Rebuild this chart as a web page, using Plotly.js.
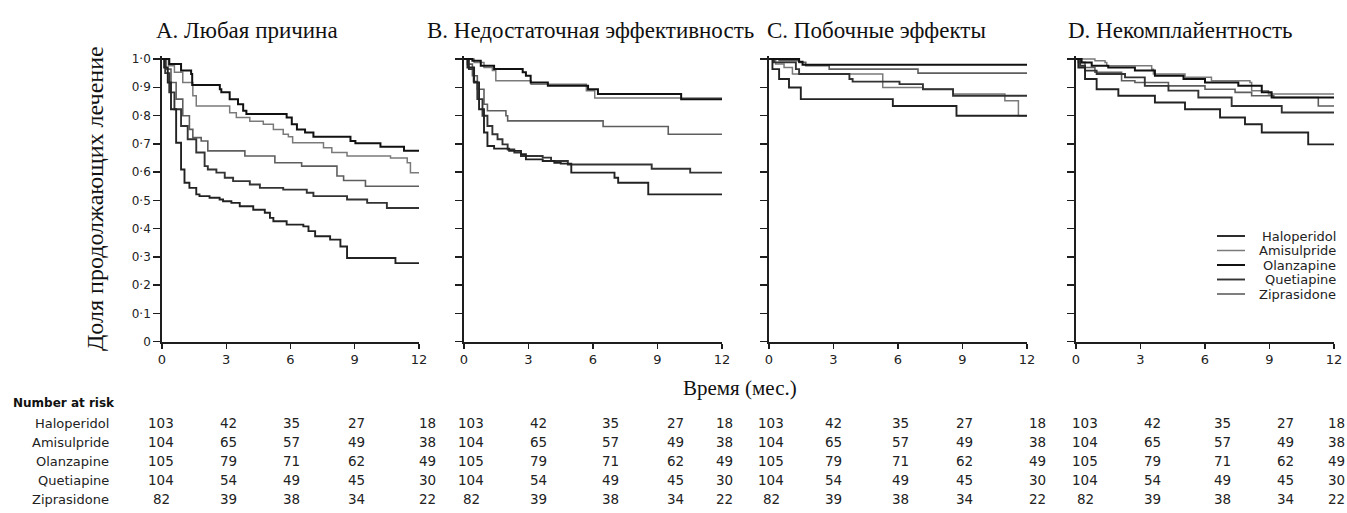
<!DOCTYPE html>
<html>
<head>
<meta charset="utf-8">
<script src="https://cdn.plot.ly/plotly-3.0.1.min.js"></script>
<style>
html,body{margin:0;padding:0;background:#fff;}
#chart{width:1347px;height:513px;}
</style>
</head>
<body>
<div id="chart"></div>
<script>
// ---------------- DATA ----------------
const drugs = ["Haloperidol", "Amisulpride", "Olanzapine", "Quetiapine", "Ziprasidone"];
const panelTitles = ["A. Любая причина", "B. Недостаточная эффективность", "C. Побочные эффекты", "D. Некомплайентность"];
const xTickVals = [0, 3, 6, 9, 12];
const xTickText = ["0", "3", "6", "9", "12"];
const yTickVals = [0, 0.1, 0.2, 0.3, 0.4, 0.5, 0.6, 0.7, 0.8, 0.9, 1.0];
const yTickText = ["0", "0·1", "0·2", "0·3", "0·4", "0·5", "0·6", "0·7", "0·8", "0·9", "1·0"];
const yTitle = "Доля продолжающих лечение";
const xTitle = "Время (мес.)";
const riskTitle = "Number at risk";

// Number at risk (months 0, 3, 6, 9, 12)
const riskHaloperidol = [103, 42, 35, 27, 18];
const riskAmisulpride = [104, 65, 57, 49, 38];
const riskOlanzapine = [105, 79, 71, 62, 49];
const riskQuetiapine = [104, 54, 49, 45, 30];
const riskZiprasidone = [82, 39, 38, 34, 22];

// Kaplan-Meier steps: [month, proportion]
// Panel A: any cause
const A_Haloperidol = [[0,1],[0.1,0.97],[0.27,0.917],[0.42,0.822],[0.66,0.704],[0.89,0.609],[1.05,0.562],[1.28,0.544],[1.6,0.521],[1.75,0.515],[2.22,0.509],[2.69,0.503],[2.85,0.497],[3.24,0.491],[3.63,0.479],[4.26,0.467],[4.8,0.456],[5.04,0.438],[5.2,0.426],[5.82,0.414],[6.6,0.408],[6.84,0.391],[7.15,0.373],[7.85,0.361],[8.33,0.337],[8.64,0.296],[10.9,0.278],[12,0.278]];
const A_Amisulpride = [[0,1],[0.3,0.976],[0.58,0.953],[0.97,0.917],[1.44,0.87],[1.6,0.834],[3.16,0.81],[3.47,0.793],[4.1,0.78],[4.73,0.769],[5.2,0.751],[5.66,0.734],[5.9,0.725],[6.1,0.704],[7.54,0.686],[7.93,0.669],[8.64,0.657],[10.67,0.65],[11.45,0.633],[11.6,0.598],[12,0.598]];
const A_Olanzapine = [[0,1],[0.34,0.982],[0.89,0.959],[1.36,0.947],[1.41,0.908],[2.7,0.893],[2.77,0.882],[3.16,0.858],[3.55,0.84],[3.79,0.817],[3.94,0.805],[5.82,0.793],[6.06,0.769],[6.3,0.751],[6.68,0.74],[7.07,0.725],[8.8,0.71],[9.03,0.702],[10.2,0.69],[11.3,0.675],[12,0.675]];
const A_Quetiapine = [[0,1],[0.15,0.95],[0.34,0.882],[0.58,0.822],[0.89,0.763],[1.2,0.716],[1.6,0.669],[1.99,0.621],[2.14,0.609],[2.54,0.598],[2.93,0.58],[3.32,0.568],[4.1,0.556],[4.57,0.544],[5.66,0.538],[6.76,0.527],[7.07,0.515],[8.64,0.503],[9.58,0.491],[10.5,0.473],[12,0.473]];
const A_Ziprasidone = [[0,1],[0.19,0.964],[0.42,0.917],[0.66,0.858],[0.97,0.799],[1.28,0.751],[1.44,0.722],[1.83,0.71],[2.14,0.675],[3.87,0.657],[5.27,0.633],[6.52,0.621],[8.17,0.586],[8.48,0.57],[9.5,0.55],[12,0.55]];

// Panel B: insufficient efficacy
const B_Haloperidol = [[0,1],[0.16,0.97],[0.47,0.917],[0.7,0.822],[0.93,0.74],[1.09,0.692],[1.4,0.683],[2.1,0.675],[2.65,0.663],[2.88,0.645],[3.66,0.639],[4.2,0.633],[4.5,0.63],[4.99,0.598],[7.0,0.58],[7.17,0.562],[8.57,0.521],[12,0.521]];
const B_Amisulpride = [[0,1],[0.47,0.988],[0.93,0.97],[1.32,0.959],[1.48,0.923],[3.12,0.911],[5.69,0.888],[6.08,0.862],[12,0.858]];
const B_Olanzapine = [[0,1],[0.39,0.994],[0.78,0.976],[1.4,0.965],[2.73,0.953],[2.88,0.941],[3.1,0.917],[3.9,0.905],[5.77,0.893],[6.23,0.876],[10.1,0.858],[12,0.858]];
const B_Quetiapine = [[0,1],[0.23,0.964],[0.45,0.92],[0.62,0.858],[0.86,0.799],[1.09,0.763],[1.32,0.734],[1.56,0.716],[1.79,0.698],[2.03,0.68],[2.34,0.669],[2.65,0.657],[3.66,0.651],[4.05,0.639],[4.83,0.627],[8.73,0.612],[10.52,0.598],[12,0.598]];
const B_Ziprasidone = [[0,1],[0.16,0.982],[0.39,0.941],[0.62,0.893],[0.93,0.84],[1.09,0.817],[1.95,0.799],[2.03,0.781],[6.47,0.761],[9.5,0.734],[12,0.734]];

// Panel C: side effects
const C_Haloperidol = [[0,1],[0.16,0.964],[0.47,0.929],[0.93,0.899],[1.48,0.858],[5.76,0.834],[8.72,0.799],[12,0.799]];
const C_Amisulpride = [[0,1],[0.31,0.982],[0.7,0.97],[1.09,0.947],[5.29,0.899],[7.16,0.893],[8.56,0.876],[10.97,0.852],[11.6,0.799],[12,0.799]];
const C_Olanzapine = [[0,1],[1.4,0.99],[1.56,0.98],[12,0.978]];
const C_Quetiapine = [[0,1],[0.23,0.988],[1.25,0.964],[1.4,0.947],[3.74,0.929],[3.89,0.92],[6.07,0.911],[7.16,0.893],[8.56,0.87],[12,0.87]];
const C_Ziprasidone = [[0,1],[0.47,0.994],[1.4,0.988],[1.71,0.976],[2.8,0.964],[6.93,0.95],[12,0.95]];

// Panel D: non-compliance
const D_Haloperidol = [[0,1],[0.11,0.97],[0.42,0.929],[0.96,0.893],[1.97,0.87],[3.67,0.846],[5.07,0.822],[6.7,0.793],[7.86,0.769],[8.64,0.74],[10.8,0.698],[12,0.698]];
const D_Amisulpride = [[0,1],[0.88,0.994],[1.35,0.988],[1.43,0.976],[3.52,0.964],[3.6,0.947],[5.07,0.935],[6.3,0.923],[8.09,0.917],[8.17,0.888],[8.95,0.876],[12,0.876]];
const D_Olanzapine = [[0,1],[0.26,0.988],[0.73,0.976],[1.5,0.97],[2.74,0.959],[3.67,0.941],[5.0,0.929],[6.0,0.917],[7.55,0.905],[8.64,0.882],[9.1,0.864],[12,0.864]];
const D_Quetiapine = [[0,1],[0.19,0.976],[0.42,0.959],[0.96,0.947],[2.28,0.935],[3.2,0.905],[4.3,0.888],[5.69,0.864],[7.24,0.834],[9.57,0.811],[12,0.811]];
const D_Ziprasidone = [[0,1],[0.11,0.988],[0.42,0.97],[0.88,0.953],[2.12,0.923],[2.74,0.917],[4.3,0.905],[6.0,0.893],[7.4,0.882],[8.17,0.87],[9.2,0.864],[11.27,0.834],[12,0.834]];

// ---------------- STYLE / LAYOUT CONSTANTS ----------------
const W = 1347, H = 513;
const drugColor = {Haloperidol:"#222222", Amisulpride:"#7a7a7a", Olanzapine:"#111111", Quetiapine:"#333333", Ziprasidone:"#5e5e5e"};
const drugWidth = {Haloperidol:1.9, Amisulpride:1.5, Olanzapine:2.0, Quetiapine:1.9, Ziprasidone:1.6};
const panelPx = [[162,419],[464,722],[769,1027],[1076,1334]];
const yTopPx = 59, yZeroPx = 341.7, yMax = 1.01;
const titleCenterPx = [247, 590, 876, 1180];
const titleYPx = 30;
const tableColPx = [[161,228,291,356,427],[471,538,610,675,724],[771,833,900,964,1037],[1085,1152,1222,1285,1336]];
const tableRowPx = [423,442,461,480,499];
const serif = "Liberation Serif, Times New Roman, serif";
const sans = "DejaVu Sans, Verdana, sans-serif";
const textColor = "#222222";
const axisColor = "#1e1e1e";

const px = x => x / W;
const py = y => 1 - y / H;

const panelData = [
  {Haloperidol:A_Haloperidol, Amisulpride:A_Amisulpride, Olanzapine:A_Olanzapine, Quetiapine:A_Quetiapine, Ziprasidone:A_Ziprasidone},
  {Haloperidol:B_Haloperidol, Amisulpride:B_Amisulpride, Olanzapine:B_Olanzapine, Quetiapine:B_Quetiapine, Ziprasidone:B_Ziprasidone},
  {Haloperidol:C_Haloperidol, Amisulpride:C_Amisulpride, Olanzapine:C_Olanzapine, Quetiapine:C_Quetiapine, Ziprasidone:C_Ziprasidone},
  {Haloperidol:D_Haloperidol, Amisulpride:D_Amisulpride, Olanzapine:D_Olanzapine, Quetiapine:D_Quetiapine, Ziprasidone:D_Ziprasidone}
];
const riskRows = [riskHaloperidol, riskAmisulpride, riskOlanzapine, riskQuetiapine, riskZiprasidone];

// ---------------- TRACES ----------------
const traces = [];
const drawOrder = ["Amisulpride", "Ziprasidone", "Quetiapine", "Haloperidol", "Olanzapine"];
panelData.forEach((pd, i) => {
  const sfx = i === 0 ? "" : String(i + 1);
  drawOrder.forEach(d => {
    traces.push({
      type: "scatter", mode: "lines",
      x: pd[d].map(p => p[0]), y: pd[d].map(p => p[1]),
      line: {shape: "hv", color: drugColor[d], width: drugWidth[d]},
      xaxis: "x" + sfx, yaxis: "y" + sfx,
      name: d, showlegend: false, hoverinfo: "skip"
    });
  });
});

// ---------------- LAYOUT ----------------
const pxPerUnit = yZeroPx - yTopPx;
const yDomTopPx = yZeroPx - yMax * pxPerUnit;
const layout = {
  width: W, height: H,
  margin: {l:0, r:0, t:0, b:0},
  paper_bgcolor: "#ffffff", plot_bgcolor: "#ffffff",
  showlegend: false,
  annotations: [], shapes: []
};
panelPx.forEach((p, i) => {
  const sfx = i === 0 ? "" : String(i + 1);
  layout["xaxis" + sfx] = {
    domain: [px(p[0]), px(p[1])], range: [0, 12], anchor: "y" + sfx,
    tickmode: "array", tickvals: xTickVals, ticktext: xTickText,
    ticks: "outside", ticklen: 5, tickwidth: 1.4, tickcolor: axisColor,
    showline: true, linecolor: axisColor, linewidth: 1.8,
    showgrid: false, zeroline: false, fixedrange: true,
    tickfont: {family: sans, size: 13, color: textColor}
  };
  layout["yaxis" + sfx] = {
    domain: [py(yZeroPx), py(yDomTopPx)], range: [0, yMax], anchor: "x" + sfx,
    tickmode: "array", tickvals: yTickVals, ticktext: yTickText,
    showticklabels: i === 0,
    ticks: "outside", ticklen: 7, tickwidth: 1.4, tickcolor: axisColor,
    showline: true, linecolor: axisColor, linewidth: 1.8,
    showgrid: false, zeroline: false, fixedrange: true,
    tickfont: {family: sans, size: 12, color: textColor}
  };
  layout.annotations.push({
    text: panelTitles[i], xref: "paper", yref: "paper",
    x: px(titleCenterPx[i]), y: py(titleYPx), xanchor: "center", yanchor: "middle",
    showarrow: false, font: {family: serif, size: 23, color: "#111"}
  });
  // number-at-risk columns
  riskRows.forEach((row, r) => {
    row.forEach((v, c) => {
      layout.annotations.push({
        text: String(v), xref: "paper", yref: "paper",
        x: px(tableColPx[i][c]), y: py(tableRowPx[r]), xanchor: "center", yanchor: "middle",
        showarrow: false, font: {family: sans, size: 13.5, color: textColor}
      });
    });
  });
});

// axis titles
layout.annotations.push({
  text: yTitle, xref: "paper", yref: "paper", x: px(95), y: py(199),
  xanchor: "center", yanchor: "middle", textangle: -90, showarrow: false,
  font: {family: serif, size: 24, color: "#111"}
});
layout.annotations.push({
  text: xTitle, xref: "paper", yref: "paper", x: px(740), y: py(388),
  xanchor: "center", yanchor: "middle", showarrow: false,
  font: {family: serif, size: 21, color: "#111"}
});
// table header + row labels
layout.annotations.push({
  text: "<b>" + riskTitle + "</b>", xref: "paper", yref: "paper", x: px(11), y: py(403),
  xanchor: "left", yanchor: "middle", showarrow: false,
  font: {family: sans, size: 12, color: "#111"}
});
drugs.forEach((d, r) => {
  layout.annotations.push({
    text: d, xref: "paper", yref: "paper", x: px(111), y: py(tableRowPx[r]),
    xanchor: "right", yanchor: "middle", showarrow: false,
    font: {family: sans, size: 13, color: textColor}
  });
});
// legend (panel D)
const legendRowPx = [236, 250.5, 265, 279.5, 294];
drugs.forEach((d, r) => {
  layout.shapes.push({
    type: "line", xref: "paper", yref: "paper",
    x0: px(1217), x1: px(1245), y0: py(legendRowPx[r]), y1: py(legendRowPx[r]),
    line: {color: drugColor[d], width: drugWidth[d]}
  });
  layout.annotations.push({
    text: d, xref: "paper", yref: "paper", x: px(1338), y: py(legendRowPx[r]),
    xanchor: "right", yanchor: "middle", showarrow: false,
    font: {family: sans, size: 13, color: textColor}
  });
});

Plotly.newPlot("chart", traces, layout, {displayModeBar: false, staticPlot: true});
</script>
</body>
</html>
